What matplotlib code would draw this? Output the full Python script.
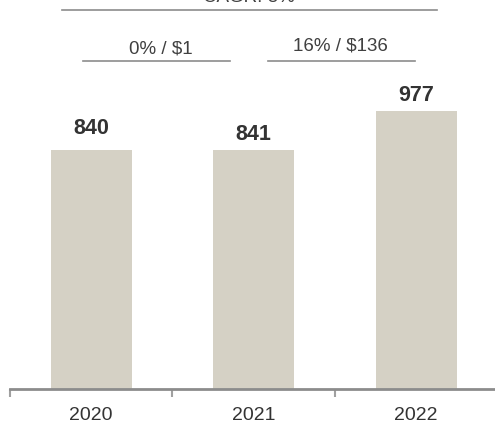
import matplotlib
matplotlib.use("Agg")
import matplotlib.pyplot as plt

plt.rcParams['font.family'] = ['Liberation Sans', 'DejaVu Sans']

years = ["2020", "2021", "2022"]
values = [840, 841, 977]
label_offsets = [15.5, 10, 9.5]  # px above bar top to label baseline

growth_labels = ["0% / $1", "16% / $136"]
cagr_label = "CAGR: 8%"

bar_color = "#D5D1C5"
line_color = "#8C8C8C"
text_color = "#404040"

W, H = 495, 423
dpi = 100
fig = plt.figure(figsize=(W / dpi, H / dpi), dpi=dpi)

ax_left, ax_right = 10, 497.5
ax_bottom_px = 389  # from top
ax = fig.add_axes([ax_left / W, (H - ax_bottom_px) / H,
                   (ax_right - ax_left) / W, ax_bottom_px / H])
ax.set_xlim(-0.5, 2.5)
ymax = 1367
ax.set_ylim(0, ymax)

x = list(range(len(years)))
ax.bar(x, values, width=0.5, color=bar_color, zorder=2)

px = ymax / ax_bottom_px  # data units per pixel


def py(p):
    """Convert a pixel row (from top) to data y."""
    return (ax_bottom_px - p) * px


for xi, v, off in zip(x, values, label_offsets):
    ax.text(xi, v + off * px, f"{v}", ha="center", va="baseline",
            fontsize=15.5, fontweight="bold", color="#333333")

# growth brackets
def pos(xpix):
    return (xpix - 91.5) / 162.5

ax.plot([pos(83), pos(230)], [py(61), py(61)], color=line_color, lw=1.2,
        clip_on=False)
ax.plot([pos(268), pos(415)], [py(61), py(61)], color=line_color, lw=1.2,
        clip_on=False)
ax.text(pos(161), py(54), growth_labels[0], ha="center", va="baseline",
        fontsize=13.5, color=text_color)
ax.text(pos(341), py(51), growth_labels[1], ha="center", va="baseline",
        fontsize=13.5, color=text_color)

ax.plot([pos(62), pos(437)], [py(10.5), py(10.5)], color=line_color, lw=1.2,
        clip_on=False)
ax.text(pos(249), py(2.5), cagr_label, ha="center", va="baseline",
        fontsize=13.5, color=text_color, clip_on=False)

for s in ["top", "right", "left"]:
    ax.spines[s].set_visible(False)
ax.spines["bottom"].set_color(line_color)
ax.spines["bottom"].set_linewidth(2)

ax.set_yticks([])
ax.set_xticks([-0.5, 0.5, 1.5])
ax.set_xticklabels([])
ax.tick_params(axis="x", direction="out", length=6, width=1.5,
               color="#A0A0A0")
ax.set_xticks(x, minor=True)
ax.set_xticklabels(years, minor=True, fontsize=14, color="#333333")
ax.tick_params(axis="x", which="minor", length=0, pad=13)

fig.savefig("out.png", dpi=dpi)
